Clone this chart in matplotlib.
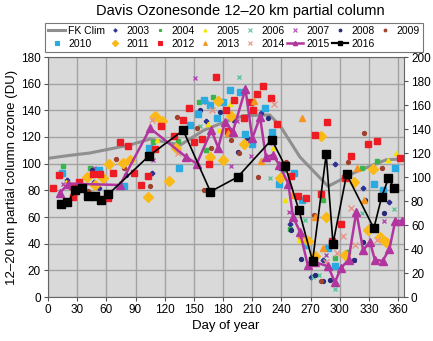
import matplotlib.pyplot as plt
from matplotlib.lines import Line2D

plt.rcParams['font.family'] = ['Liberation Sans', 'DejaVu Sans']

# FK climatology
clim_day = [0, 20, 43, 84, 105, 136, 160, 184, 201, 228, 239, 259, 288, 317, 348, 366]
clim_val = [104, 106, 108, 114, 118.5, 114, 125, 132, 136, 136.5, 128, 105, 83, 94, 103, 103.5]

# individual years (scatter)
d2003 = [20, 47, 52, 107, 162.5, 190.6, 219, 229, 295, 324, 249, 270, 283, 351]
v2003 = [88, 86.5, 82, 93, 132, 133, 138, 116, 100, 81.5, 55, 15, 28, 71.5]
d2004 = [15, 43, 108, 134, 155.6, 162.5, 170, 241.4, 249, 271, 282.5, 295, 308, 322.6, 338]
v2004 = [98, 97, 116, 117, 146, 110, 150, 95, 51, 29, 72.7, 29, 34, 96.5, 102]
d2005 = [19, 112, 165, 176, 187, 231.7, 244, 250.6, 258.5, 271, 310.7, 350, 358]
v2005 = [86, 118, 130, 125, 145, 111.5, 73, 78, 43, 31, 28, 103, 108]
d2006 = [156, 196, 228, 264.4, 272.6, 279, 295, 322.6, 356]
v2006 = [128.5, 165, 89, 58, 15, 16.5, 6, 63, 66]
d2007 = [15, 47, 107.7, 151, 162, 188, 194, 208.5, 248, 286, 315, 345.6]
v2007 = [85, 97, 103, 164, 146, 98, 132, 106, 64, 31.5, 28, 57]
d2008 = [45, 80, 156, 177, 195, 205, 226.6, 239, 250, 260, 275, 282.5, 290, 315, 324, 326, 345.6]
v2008 = [95, 91.5, 140, 139, 109, 119.5, 134, 96.5, 50, 28.5, 16.5, 12, 13, 28, 41.5, 73, 63]
d2009 = [41, 70, 78.5, 105, 133, 153, 160, 168, 188, 196, 216, 244.5, 273, 280.5, 308, 325, 343]
v2009 = [79.5, 103.5, 97, 83, 135, 126.5, 80, 112, 118, 108, 90, 101.5, 61.5, 12, 101, 123, 97]
d2010 = [14, 52.5, 78, 104, 135, 146, 154, 160.5, 167, 174, 180, 187, 197, 203, 209.5, 223,
         230.7, 237.5, 253, 261, 265, 288, 295, 335, 344, 357]
v2010 = [93, 95, 83, 112, 97, 129, 137, 148, 144, 134, 146, 155, 154, 122.5, 115, 142,
         124, 84.5, 93, 72.7, 39, 36.5, 23, 85, 80, 97]
d2011 = [40, 48, 57, 63, 77, 84, 103, 110, 117.5, 124.5, 132, 167, 175, 180, 188, 201.6, 238.7,
         267, 275, 280.5, 286, 305.5, 315, 329.5, 334, 341.5, 348]
v2011 = [90, 84, 89.5, 100, 100.5, 103, 75, 136, 132, 87, 112, 105, 147, 103, 136, 115, 89,
         42, 31, 121, 60, 31.5, 86, 50, 96, 45, 41.5]
d2012 = [5, 11, 25, 26, 32, 46, 53.5, 62, 67, 74, 82, 88.5, 96, 103, 110, 116, 130, 138.5, 145,
         150, 158, 166, 172.5, 183, 185.5, 191, 201, 208, 211, 215, 221.5, 229, 235, 250, 257.5,
         265, 274, 280.5, 287, 292, 301, 305.5, 311, 329.5, 338, 362]
v2012 = [82, 91.5, 83, 75, 86.5, 92, 92, 74, 93, 116.5, 113, 93, 84, 91, 111, 128.5, 121, 133,
         142, 116, 118.5, 99.5, 165, 140, 124.5, 148, 134, 146, 140, 152, 158, 149.5, 129.5, 91,
         76, 74, 121.5, 77, 131, 42, 55, 89, 106, 114.5, 117, 104]
d2013 = [185, 190.6, 212, 219, 251, 260, 261, 275, 283, 317.5, 324.5]
v2013 = [123, 124, 147, 102, 76.5, 46.5, 134, 60, 36.5, 97, 73]
d2014 = [107, 134, 169, 232.5, 286, 297, 303, 311, 316, 338]
v2014 = [133, 108, 140, 145, 26.5, 33, 45.7, 66.5, 39, 43]

# line years
d2015 = [12, 21, 74, 105, 142, 153, 168, 175, 182, 190, 203, 210, 218, 224, 231, 238, 247, 252,
         259, 267, 275, 288, 295, 301, 309, 317, 324, 331, 336, 344, 351, 357, 364]
v2015 = [78, 85, 84, 126.5, 105, 100, 125, 112, 131.5, 124, 156, 119, 135, 105, 106.5, 99, 85,
         60, 49, 24, 26, 23, 11, 21.5, 28, 64, 35, 41.5, 28, 27, 36, 57, 57]
d2016 = [13, 20, 28, 35, 41, 48, 55, 62, 104, 139, 167, 195, 230, 244, 258, 272, 286, 293, 307,
         335, 343, 350, 356]
v2016 = [70, 71, 80, 81.5, 76, 76, 73, 77, 106, 125, 79, 90, 118, 98, 65, 27, 107, 40, 92,
         51.5, 75, 89, 81.5]

fig = plt.figure(figsize=(4.33, 3.41), dpi=100)
ax = fig.add_axes([48 / 433, 44 / 341, 356 / 433, 240 / 341])
ax.set_facecolor('#d9d9d9')

ax.plot(clim_day, clim_val, color='#8f8f8f', lw=2.2, zorder=2)

scat = [
    (d2003, v2003, 'P', '#2e3192', 3.0, '2003'),
    (d2004, v2004, 's', '#39b54a', 3.0, '2004'),
    (d2005, v2005, '^', '#f2e400', 3.0, '2005'),
    (d2006, v2006, 'x', '#5cc69a', 3.4, '2006'),
    (d2007, v2007, 'x', '#b04cb0', 3.4, '2007'),
    (d2008, v2008, 'o', '#262a7a', 2.8, '2008'),
    (d2009, v2009, 'o', '#a0412d', 2.8, '2009'),
    (d2010, v2010, 's', '#29abe2', 4.7, '2010'),
    (d2011, v2011, 'D', '#fbb917', 4.6, '2011'),
    (d2012, v2012, 's', '#ed1c24', 4.7, '2012'),
    (d2013, v2013, '^', '#f7941d', 3.8, '2013'),
    (d2014, v2014, 'x', '#e8958a', 4.0, '2014'),
]
handles = {}
for d, v, m, c, ms, lab in scat:
    ax.plot(d, v, ls='none', marker=m, color=c, ms=ms, mew=1.0, zorder=3)
    handles[lab] = Line2D([], [], ls='none', marker=m, color=c, ms=ms * 0.7, mew=0.8)

ax.plot(d2015, v2015, color='#b2359f', lw=1.8, marker='^', ms=5.5, zorder=4)
ax.plot(d2016, v2016, color='black', lw=1.2, marker='s', ms=5.3, zorder=5)

handles['FK Clim'] = Line2D([], [], color='#8f8f8f', lw=2.2)
handles['2015'] = Line2D([], [], color='#b2359f', lw=1.8, marker='^', ms=3)
handles['2016'] = Line2D([], [], color='black', lw=1.6, marker='s', ms=3.5)

row1 = ['FK Clim', '2003', '2004', '2005', '2006', '2007', '2008', '2009']
row2 = ['2010', '2011', '2012', '2013', '2014', '2015', '2016']
order = []
for i in range(7):
    order += [row1[i], row2[i]]
order.append(row1[7])
leg = fig.legend([handles[k] for k in order], order, ncol=8, loc='lower left',
                 bbox_to_anchor=(40 / 433, 284 / 341, 388 / 433, 38 / 341), mode='expand',
                 fontsize=7.5, frameon=True, fancybox=False, edgecolor='#555555',
                 handlelength=1.6, handletextpad=0.3, columnspacing=0.4,
                 borderpad=0.3, labelspacing=0.25)
leg.get_frame().set_linewidth(0.8)

ax.set_xlim(0, 366)
ax.set_ylim(0, 180)
ax.set_xticks(range(0, 361, 30))
ax.set_yticks(range(0, 181, 20))
ax.grid(True, color='#a3a3a3', lw=1.0)
ax.set_axisbelow(True)
ax.tick_params(labelsize=8.5, length=3, color='#555555', pad=2)
for s in ax.spines.values():
    s.set_color('#666666')
    s.set_linewidth(0.8)
ax.set_xlabel('Day of year', fontsize=9.5, labelpad=3)
ax.set_ylabel('12–20 km partial column ozone (DU)', fontsize=9.5, labelpad=2)

ax2 = ax.twinx()
ax2.set_ylim(0, 200)
ax2.set_yticks(range(0, 201, 20))
ax2.tick_params(labelsize=8.5, length=3, color='#555555', pad=2)
for s in ax2.spines.values():
    s.set_visible(False)

fig.text(240 / 433, 1 - 11 / 341, 'Davis Ozonesonde 12–20 km partial column',
         ha='center', va='center', fontsize=10.5)

fig.savefig('out.png', dpi=100)
